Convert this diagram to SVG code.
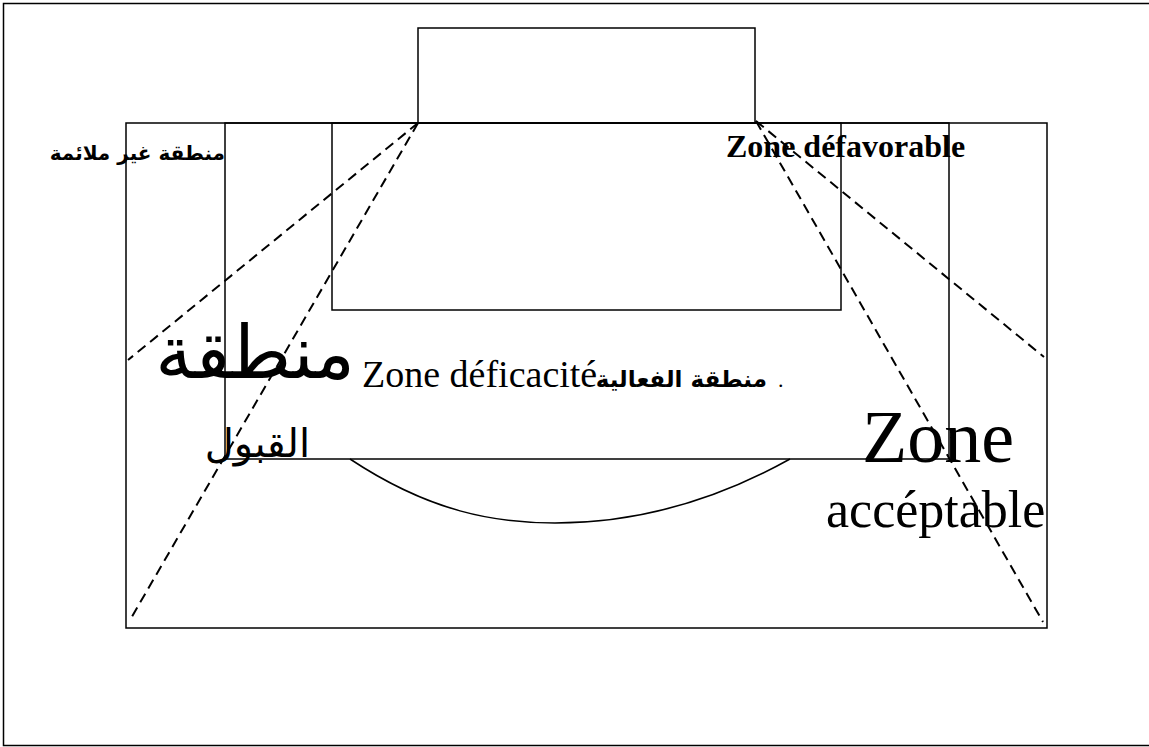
<svg xmlns="http://www.w3.org/2000/svg" width="1149" height="747" viewBox="0 0 1149 747">
<style>
.box{fill:none;stroke:#000;stroke-width:1.5}
.dash{fill:none;stroke:#000;stroke-width:2;stroke-dasharray:10,6}
.lat{font-family:"Liberation Serif","Times New Roman",serif;fill:#000}
.ar{font-family:"DejaVu Sans","Noto Sans",sans-serif;fill:#000}
</style>
<rect width="1149" height="747" fill="#fff"/>
<g id="frame"><rect class="box" x="3.5" y="3.5" width="1152" height="742"/></g>
<g id="top-box"><rect class="box" x="418" y="28" width="337" height="95"/></g>
<g id="outer-field"><rect class="box" x="126" y="123" width="921" height="505"/></g>
<g id="middle-field"><rect class="box" x="225" y="123" width="724" height="336"/></g>
<g id="inner-field"><rect class="box" x="332" y="123" width="509" height="187"/></g>
<g id="arc"><path class="box" d="M350,459 C430,512 495,523 555,523 C640,523 720,498 790,459"/></g>
<g id="connectors">
<line class="dash" x1="418" y1="123" x2="128" y2="360"/>
<line class="dash" x1="418" y1="123" x2="130" y2="620"/>
<line class="dash" x1="756" y1="121" x2="1044" y2="357"/>
<line class="dash" x1="756" y1="121" x2="1043" y2="622"/>
</g>
<g id="label-unsuitable"><text class="ar" x="225" y="160" font-size="20" font-weight="bold" text-anchor="end">منطقة غير ملائمة</text></g>
<g id="label-defavorable"><text class="lat" x="726" y="157" font-size="32" font-weight="bold">Zone défavorable</text></g>
<g id="label-acceptance-ar">
<text class="ar" x="355" y="378" font-size="74" text-anchor="end">منطقة</text>
<text class="ar" x="310" y="457" font-size="40" text-anchor="end">القبول</text>
</g>
<g id="label-efficacite">
<text class="lat" x="362" y="387" font-size="38">Zone déficacité</text>
<text class="ar" x="767" y="387" font-size="23" font-weight="bold" text-anchor="end">منطقة الفعالية</text>
<text class="lat" x="778" y="387" font-size="22">.</text>
</g>
<g id="label-acceptable">
<text class="lat" x="862" y="462" font-size="74">Zone</text>
<text class="lat" x="826" y="527" font-size="52">accéptable</text>
</g>
</svg>
